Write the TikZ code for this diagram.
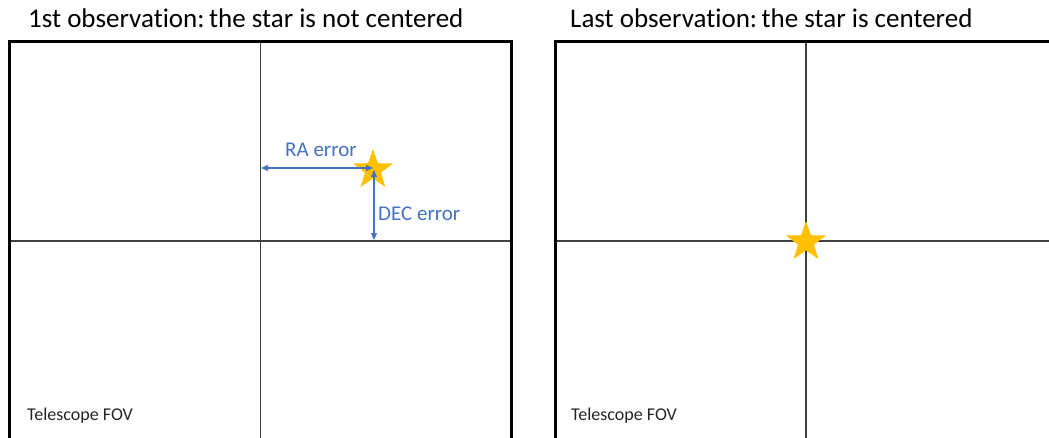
\documentclass[tikz,border=0pt]{standalone}
\usepackage{fontspec}
\setmainfont{Carlito}[Ligatures={NoCommon}]
\usetikzlibrary{shapes.geometric,arrows.meta}
\definecolor{errblue}{HTML}{4472C4}
\definecolor{stargold}{HTML}{FFC000}
\definecolor{axisgrey}{HTML}{404040}
\tikzset{
  fovbox/.style={draw=black, line width=3pt},
  axisline/.style={draw=axisgrey, line width=1.3pt},
  starmark/.style={star, star points=5, star point ratio=2.5, fill=stargold,
    draw=none, minimum size=42pt, inner sep=0pt},
  errarrow/.style={draw=errblue, line width=1.1pt,
    {Triangle[length=7pt,width=6pt]}-{Triangle[length=7pt,width=6pt]}},
  errlabel/.style={text=errblue, font=\fontsize{21}{24}\selectfont, inner sep=0pt},
  titletext/.style={font=\fontsize{27}{32}\selectfont, inner sep=0pt},
  foovtext/.style={font=\fontsize{18}{21}\selectfont, text=black!85, inner sep=0pt}
}
\begin{document}
\begin{tikzpicture}[x=1pt,y=-1pt]
\useasboundingbox (0,0) rectangle (1049,437);
\fill[white] (0,0) rectangle (1049,437);
\clip (0,0) rectangle (1049,437);

% titles
\node[titletext, anchor=base west] (t1) at (28,27) {1st observation:\,the star is not centered};
\node[titletext, anchor=base west] (t2) at (570,27) {Last observation:\,the star is centered};

% left field of view
\draw[axisline] (260.5,41.5) -- (260.5,445);
\draw[axisline] (9.5,241) -- (511,241);
\draw[fovbox] (9.5,445) -- (9.5,41.5) -- (511,41.5) -- (511,445);

% right field of view
\draw[axisline] (806,41.5) -- (806,445);
\draw[axisline] (555,241) -- (1060,241);
\draw[fovbox] (555,445) -- (555,41.5) -- (1060,41.5);

% stars
\node[starmark] (star1) at (373,170) {};
\node[starmark] (star2) at (806,242) {};

% error arrows
\coordinate (raend) at (261,168);
\coordinate (rastart) at (373,168);
\coordinate (decstart) at (374,170);
\coordinate (decend) at (374,240);
\draw[errarrow] (raend) -- (rastart);
\draw[errarrow] (decstart) -- (decend);

\node[errlabel, anchor=base west] (ralab) at (285,156) {RA error};
\node[errlabel, anchor=base west] (declab) at (378,220) {DEC error};

% field labels
\node[foovtext, anchor=base west] (fov1) at (27,420) {Telescope FOV};
\node[foovtext, anchor=base west] (fov2) at (571,420) {Telescope FOV};
\end{tikzpicture}
\end{document}
